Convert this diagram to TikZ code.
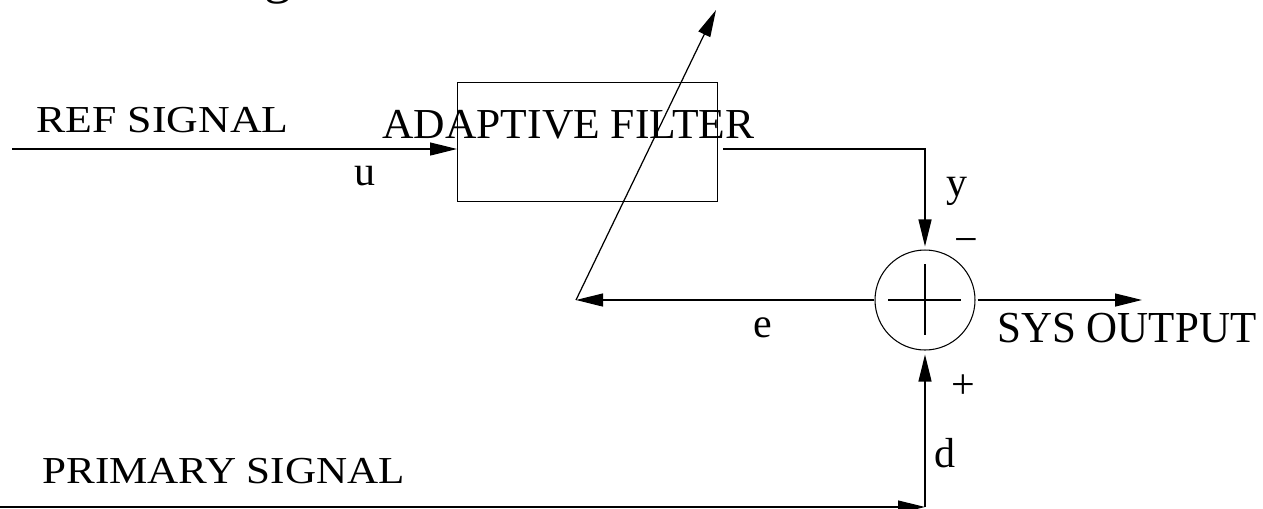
\documentclass[tikz,border=0pt]{standalone}
\usepackage{graphicx}
\usepackage{fontspec}
\setmainfont{Liberation Serif}
\usetikzlibrary{arrows.meta,calc}
\begin{document}
\begin{tikzpicture}[x=0.02cm,y=-0.02cm,
  wire/.style={line width=0.7pt},
  sig/.style={wire,-{Triangle[length=0.54cm,width=0.26cm]}},
  lbl/.style={inner sep=0pt,font=\fontsize{23.9}{28}\selectfont},
  ttl/.style={inner sep=0pt,anchor=base west}]
\useasboundingbox (0,0) rectangle (1263,508);

% blocks
\node[draw,line width=0.6pt,inner sep=0pt,minimum width=5.2cm,minimum height=2.38cm,anchor=north west] (filt) at (457,82) {};
\node[draw,line width=0.6pt,circle,inner sep=0pt,minimum size=2cm] (sum) at (925,300) {};
\draw[line width=0.6pt] ($(sum.center)+(-37,0)$) -- ($(sum.center)+(36,0)$);
\draw[line width=0.6pt] ($(sum.center)+(0,-36)$) -- ($(sum.center)+(0,35)$);

% free ends of the signal lines
\coordinate (refin) at (12,149);
\coordinate (yout) at (723,149);
\coordinate (fb) at (576,300);
\coordinate (adj) at (716,10);
\coordinate (sysout) at (1142,300);
\coordinate (prim) at (0,507);
\coordinate (dcorner) at (925,507);

% signal paths
\draw[sig] (refin) -- (refin -| filt.west);
\draw[sig,shorten >=0.06cm] (yout) -| (sum.north);
\draw[sig] ([xshift=0.04cm]sum.east) -- (sysout);
\draw[sig] (sum.west) -- (fb);
\draw[sig] (fb) -- (adj);
\draw[sig] (prim) -- (dcorner);
\draw[sig,shorten >=0.08cm] (dcorner) -- (sum.south);

% captions
\node[ttl,font=\fontsize{21.7}{26}\selectfont] (tref) at (36,132) {\scalebox{1.15}[1]{REF SIGNAL}};
\node[ttl,font=\fontsize{24.3}{29}\selectfont] (tfilt) at (382,138) {\scalebox{1.02}[1]{ADAPTIVE FILTER}};
\node[ttl,font=\fontsize{21.7}{26}\selectfont] (tprim) at (42,483) {\scalebox{1.13}[1]{PRIMARY SIGNAL}};
\node[ttl,font=\fontsize{25.2}{30}\selectfont] (tsys) at (997,342) {\scalebox{0.97}[1]{SYS OUTPUT}};
\node[inner sep=0pt,anchor=base,font=\fontsize{31}{36}\selectfont] (gfrag) at (278,-8) {g};

% signal names and signs
\node[lbl,anchor=base] (lu) at (365,185) {u};
\node[lbl,anchor=base] (ly) at (957,196) {y};
\node[lbl,anchor=base] (le) at (763,337) {e};
\node[lbl,anchor=base] (ld) at (945,467) {d};
\node[lbl] (lplus) at (963,387) {+};
\node[lbl,anchor=base] (lminus) at (966,253) {−};
\end{tikzpicture}
\end{document}
